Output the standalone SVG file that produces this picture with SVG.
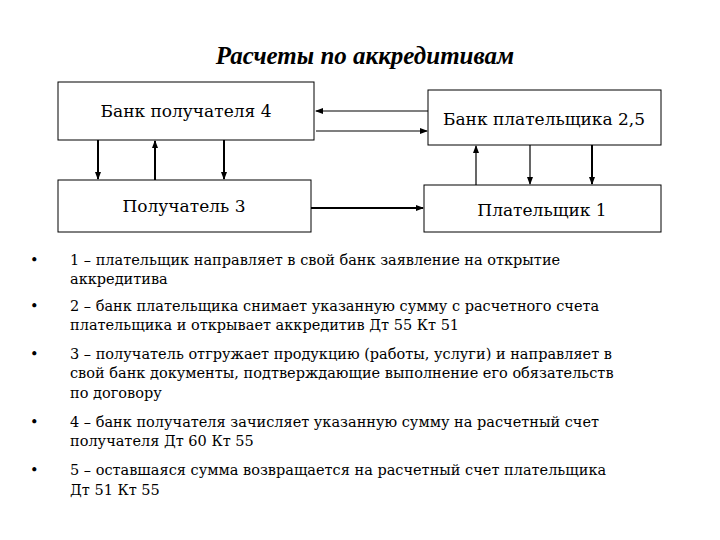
<svg xmlns="http://www.w3.org/2000/svg" width="720" height="540" viewBox="0 0 720 540">
<style>
text{font-family:"DejaVu Serif",serif;fill:#000}
.b{fill:#fff;stroke:#000;stroke-width:1}
.n{font-size:17px;text-anchor:middle}
.t{font-size:14.5px}
.c line{stroke:#000;stroke-width:1.2}
.c .k{stroke-width:2}
</style>
<defs><marker id="a" markerWidth="8" markerHeight="8" refX="7" refY="4" orient="auto" markerUnits="userSpaceOnUse"><path d="M0,1 L8,4 L0,7z" fill="#000"/></marker></defs>
<rect width="720" height="540" fill="#fff"/>
<text x="365" y="64" style="font-family:'Liberation Serif',serif" font-size="25" font-weight="bold" font-style="italic" text-anchor="middle">Расчеты по аккредитивам</text>
<g id="n1"><rect class="b" x="58" y="82" width="256" height="58"/><text class="n" x="186" y="117">Банк получателя 4</text></g>
<g id="n2"><rect class="b" x="428" y="90" width="233" height="55"/><text class="n" x="544" y="125">Банк плательщика 2,5</text></g>
<g id="n3"><rect class="b" x="58" y="180" width="253" height="52"/><text class="n" x="184" y="212">Получатель 3</text></g>
<g id="n4"><rect class="b" x="424" y="185" width="237" height="47"/><text class="n" x="542" y="216">Плательщик 1</text></g>
<g class="c">
<line x1="428" y1="111" x2="316" y2="111" marker-end="url(#a)"/>
<line x1="316" y1="131" x2="427" y2="131" marker-end="url(#a)"/>
<line class="k" x1="98" y1="140" x2="98" y2="179" marker-end="url(#a)"/>
<line class="k" x1="155" y1="180" x2="155" y2="141" marker-end="url(#a)"/>
<line class="k" x1="224" y1="140" x2="224" y2="179" marker-end="url(#a)"/>
<line x1="476" y1="185" x2="476" y2="146" marker-end="url(#a)"/>
<line x1="530" y1="145" x2="530" y2="184" marker-end="url(#a)"/>
<line class="k" x1="592" y1="145" x2="592" y2="184" marker-end="url(#a)"/>
<line class="k" x1="311" y1="208" x2="423" y2="208" marker-end="url(#a)"/>
</g>
<g class="t">
<text x="30" y="265">•</text><text x="70" y="265">1 – плательщик направляет в свой банк заявление на открытие</text><text x="70" y="284">аккредитива</text>
<text x="30" y="311">•</text><text x="70" y="311">2 – банк плательщика снимает указанную сумму с расчетного счета</text><text x="70" y="330">плательщика и открывает аккредитив Дт 55 Кт 51</text>
<text x="30" y="359">•</text><text x="70" y="359">3 – получатель отгружает продукцию (работы, услуги) и направляет в</text><text x="70" y="378">свой банк документы, подтверждающие выполнение его обязательств</text><text x="70" y="398">по договору</text>
<text x="30" y="427">•</text><text x="70" y="427">4 – банк получателя зачисляет указанную сумму на расчетный счет</text><text x="70" y="446">получателя Дт 60 Кт 55</text>
<text x="30" y="475">•</text><text x="70" y="475">5 – оставшаяся сумма возвращается на расчетный счет плательщика</text><text x="70" y="495">Дт 51 Кт 55</text>
</g>
</svg>
